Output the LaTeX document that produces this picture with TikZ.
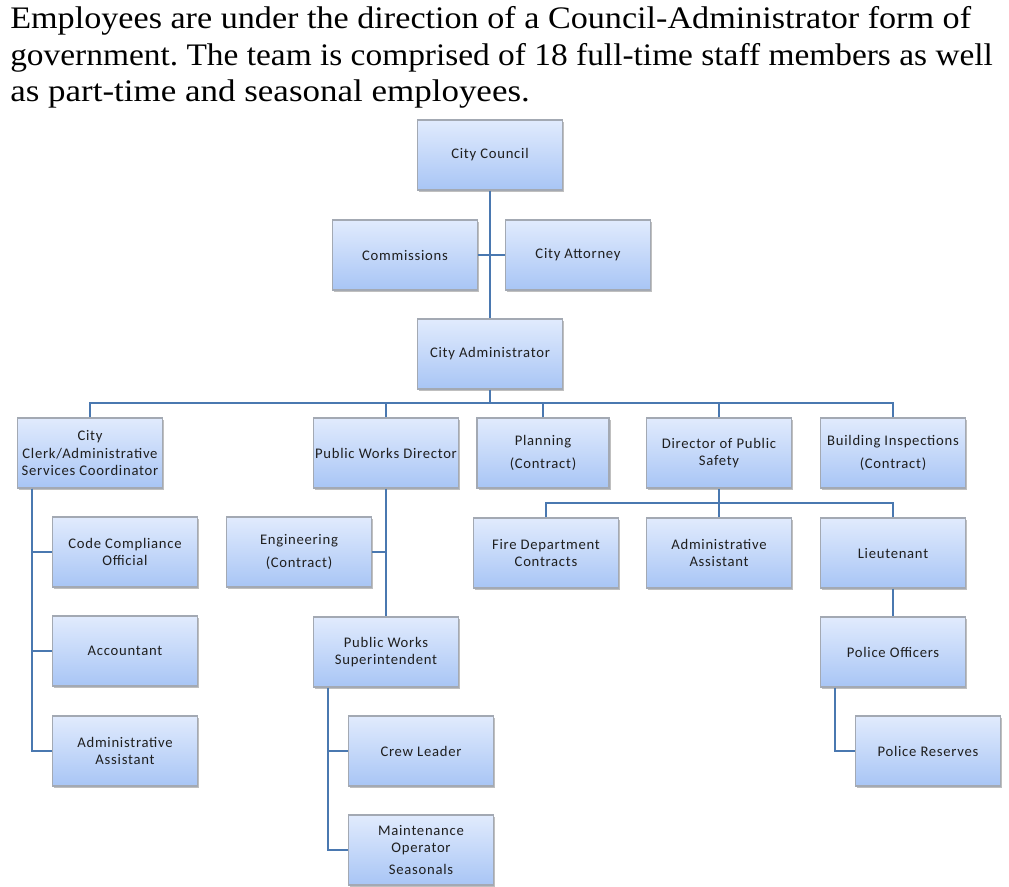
\documentclass[tikz,border=0pt]{standalone}
\usepackage{fontspec}
\setmainfont{Carlito}
\newfontfamily\boxfont[LetterSpace=5]{Carlito}
\newfontfamily\titlefont[FakeStretch=1.09]{Liberation Serif}
\usetikzlibrary{shadows}
\definecolor{linec}{HTML}{4A78B0}
\definecolor{boxtop}{HTML}{E1EBFD}
\definecolor{boxbot}{HTML}{A8C5F5}
\definecolor{boxdraw}{HTML}{A3A9B3}
\tikzset{
  box/.style={draw=boxdraw, line width=0.8pt, top color=boxtop, bottom color=boxbot,
    minimum width=108.5pt, minimum height=52.5pt, inner sep=1pt, align=center,
    font=\boxfont\fontsize{11}{12.8}\selectfont, text=black!88,
    drop shadow={shadow xshift=1.2pt, shadow yshift=-1.5pt, fill=black, opacity=0.25}},
  conn/.style={draw=linec, line width=1.6pt},
  titletext/.style={anchor=base west, inner sep=0pt, font=\titlefont\fontsize{23.5}{27}\selectfont}
}
\frenchspacing
\begin{document}
\begin{tikzpicture}[x=0.75pt,y=-0.75pt]
\useasboundingbox (0,0) rectangle (1009,886);
% title
\node[titletext] (t1) at (10,28) {Employees are under the direction of a Council-Administrator form of};
\node[titletext] (t2) at (10,65) {\scalebox{0.978}[1]{government. The team is comprised of 18 full-time staff members as well}};
\node[titletext] (t3) at (10,101) {\scalebox{1.024}[1]{as part-time and seasonal employees.}};
% nodes
\node[box] (CC) at (490,155) {City Council};
\node[box] (Com) at (405,255) {Commissions};
\node[box] (Att) at (578,255) {City Attorney};
\node[box] (Adm) at (490,354) {City Administrator};
\node[box] (Clerk) at (90,453) {City\\Clerk/Administrative\\Services Coordinator};
\node[box] (PWD) at (386,453) {Public Works Director};
\node[box, minimum width=99pt] (Plan) at (543,453) {Planning\\[5pt](Contract)};
\node[box] (DPS) at (719,453) {Director of Public\\Safety};
\node[box] (BI) at (893,453) {Building Inspections\\[5pt](Contract)};
\node[box] (FD) at (546,553) {Fire Department\\Contracts};
\node[box] (AA2) at (719,553) {Administrative\\Assistant};
\node[box] (Lt) at (893,553) {Lieutenant};
\node[box] (PO) at (893,652) {Police Officers};
\node[box] (PR) at (928,751) {Police Reserves};
\node[box] (CCO) at (125,552) {Code Compliance\\Official};
\node[box] (Acc) at (125,651) {Accountant};
\node[box] (AA1) at (125,751) {Administrative\\Assistant};
\node[box] (Eng) at (299,552) {Engineering\\[5pt](Contract)};
\node[box] (PWS) at (386,652) {Public Works\\Superintendent};
\node[box] (Crew) at (421,751) {Crew Leader};
\node[box] (Maint) at (421,850) {Maintenance\\Operator\\[4pt]Seasonals};
% coordinates
\coordinate (bus) at (490,403);
\coordinate (dbus) at (719,503);
\coordinate (clerkx) at ([xshift=11.25pt]Clerk.south west);
\coordinate (pwsx) at ([xshift=11.25pt]PWS.south west);
\coordinate (pox) at ([xshift=11.25pt]PO.south west);
% connectors
\path[conn] (CC.south) -- (Adm.north);
\path[conn] (Com.east) -- (Att.west);
\path[conn] (Adm.south) -- (bus);
\path[conn] (Clerk.north) |- (bus);
\path[conn] (PWD.north) |- (bus);
\path[conn] (Plan.north) |- (bus);
\path[conn] (DPS.north) |- (bus);
\path[conn] (BI.north) |- (bus);
\path[conn] (DPS.south) -- (AA2.north);
\path[conn] (FD.north) |- (dbus);
\path[conn] (Lt.north) |- (dbus);
\path[conn] (Lt.south) -- (PO.north);
\path[conn] (pox) |- (PR.west);
\path[conn] (clerkx) |- (CCO.west);
\path[conn] (clerkx) |- (Acc.west);
\path[conn] (clerkx) |- (AA1.west);
\path[conn] (PWD.south) -- (PWS.north);
\path[conn] (Eng.east) -- (Eng.east -| PWD.south);
\path[conn] (pwsx) |- (Crew.west);
\path[conn] (pwsx) |- (Maint.west);
\end{tikzpicture}
\end{document}
